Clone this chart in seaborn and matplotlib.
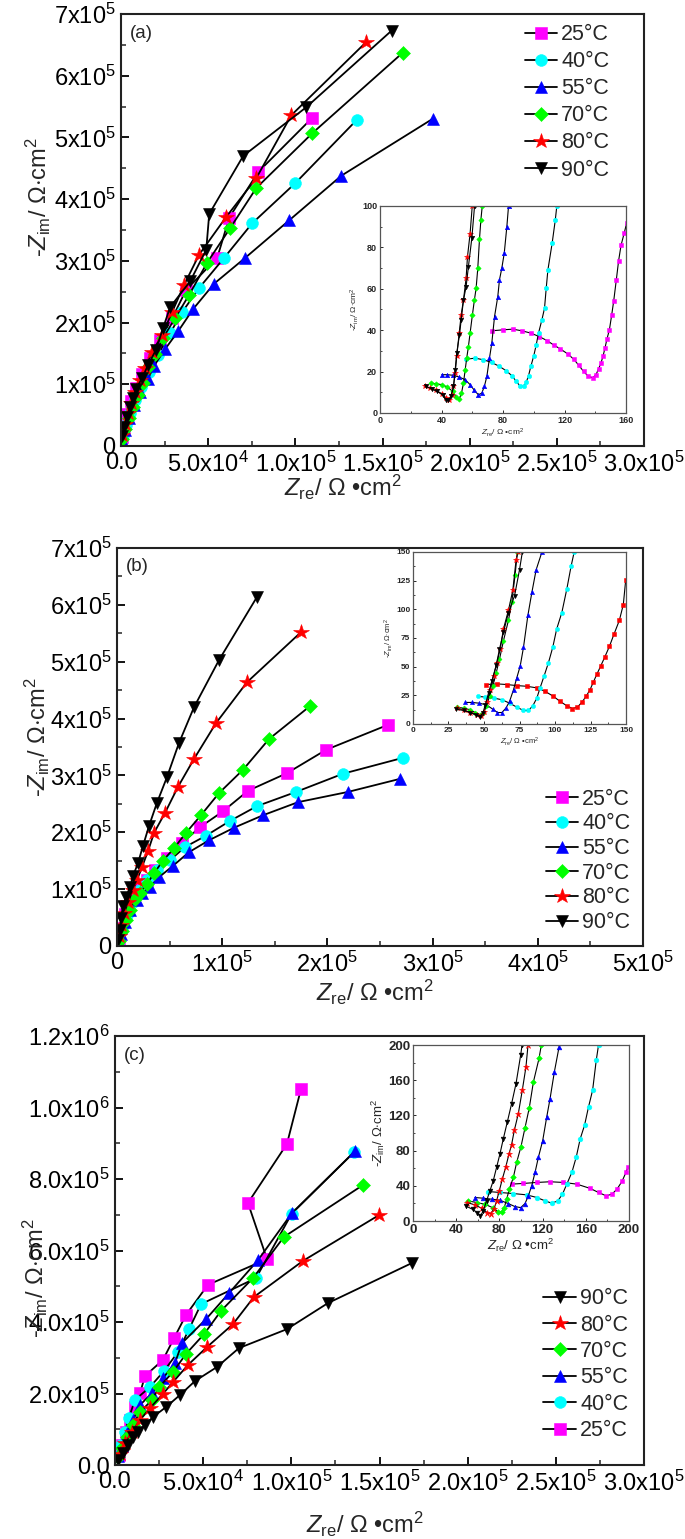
import numpy as np
import pandas as pd
import matplotlib
matplotlib.use('Agg')
import matplotlib.pyplot as plt
from matplotlib.ticker import MultipleLocator
import seaborn as sns

sns.set_theme(style='ticks')
plt.rcParams['font.family'] = ['Liberation Sans', 'DejaVu Sans']
plt.rcParams['mathtext.fontset'] = 'custom'
plt.rcParams['mathtext.rm'] = 'Liberation Sans'
plt.rcParams['mathtext.it'] = 'Liberation Sans:italic'
plt.rcParams['xtick.direction'] = 'in'
plt.rcParams['ytick.direction'] = 'in'

temps = ['25°C', '40°C', '55°C', '70°C', '80°C', '90°C']
mk = {'25°C': 's', '40°C': 'o', '55°C': '^', '70°C': 'D', '80°C': '*', '90°C': 'v'}
col = {'25°C': '#ff00ff', '40°C': '#00ffff', '55°C': '#0000ff',
       '70°C': '#00ff00', '80°C': '#ff0000', '90°C': '#000000'}

# ---- main panels, values in kOhm cm2 ----
# (a)
a25_x = [0.6, 1.7, 3.4, 5.7, 8.6, 12.1, 16.7, 22.4, 29.3, 37.4, 55.2, 62.1, 78.7, 109.8]
a25_y = [15, 32, 52, 73, 94, 117, 143, 172, 207, 253, 305, 370, 444, 532]
a40_x = [1.1, 2.9, 5.2, 8.0, 11.5, 16.1, 21.3, 28.2, 35.1, 44.8, 59.2, 75.3, 100.0, 135.1]
a40_y = [16, 34, 54, 75, 96, 120, 148, 183, 217, 256, 305, 361, 426, 528]
a55_x = [0.6, 2.3, 4.6, 7.5, 10.9, 15.5, 19.0, 25.3, 32.8, 41.4, 53.4, 71.3, 96.6, 126.4, 178.7]
a55_y = [10, 26, 45, 66, 88, 109, 130, 157, 186, 222, 263, 305, 366, 438, 530]
a70_x = [0.6, 2.3, 4.6, 6.9, 9.8, 12.6, 15.5, 19.5, 24.1, 31.0, 39.1, 49.4, 62.6, 77.6, 109.8, 161.5]
a70_y = [11, 28, 45, 63, 83, 102, 128, 149, 175, 207, 245, 297, 353, 418, 507, 637]
a80_x = [0.6, 2.3, 4.0, 5.7, 8.0, 10.9, 13.8, 17.8, 23.6, 29.3, 36.2, 44.8, 60.3, 77.6, 97.7, 140.8]
a80_y = [18, 36, 54, 70, 88, 107, 126, 152, 180, 217, 261, 310, 371, 434, 536, 655]
a90_x = [0.6, 1.7, 3.4, 5.2, 6.9, 8.6, 12.1, 15.5, 20.1, 24.1, 28.2, 39.7, 48.9, 50.6, 70.1, 106.3, 155.2]
a90_y = [16, 31, 47, 63, 78, 92, 110, 131, 156, 191, 225, 267, 318, 376, 470, 549, 673]

# (b)
b25_x = [1.9, 3.8, 7.6, 12.4, 21.9, 28.5, 36.1, 47.5, 61.8, 78.9, 100.8, 124.5, 161.6, 198.7, 257.6]
b25_y = [11, 32, 56, 81, 104, 116, 134, 155, 181, 209, 237, 273, 304, 345, 389]
b40_x = [1.9, 4.8, 9.5, 15.2, 21.9, 28.5, 38.0, 50.4, 64.6, 84.6, 107.4, 133.1, 170.2, 214.8, 271.9]
b40_y = [11, 32, 55, 77, 99, 116, 134, 151, 174, 194, 220, 246, 271, 303, 331]
b55_x = [1.9, 3.8, 7.6, 12.4, 19.0, 23.8, 31.4, 39.9, 53.2, 68.4, 87.5, 111.2, 138.8, 172.1, 219.6, 269.0]
b55_y = [5, 21, 42, 63, 81, 93, 104, 121, 141, 165, 186, 208, 230, 253, 271, 294]
b70_x = [1.9, 4.8, 8.6, 12.4, 17.1, 21.9, 28.5, 35.2, 43.7, 54.2, 65.6, 79.8, 97.0, 119.8, 144.5, 183.5]
b70_y = [9, 26, 46, 63, 83, 93, 109, 128, 150, 172, 199, 230, 269, 310, 364, 422]
b80_x = [1.9, 3.8, 6.7, 10.5, 15.2, 19.0, 23.8, 29.5, 35.2, 45.6, 58.0, 73.2, 94.1, 123.6, 174.9]
b80_y = [18, 37, 58, 77, 99, 116, 139, 167, 199, 234, 280, 329, 392, 464, 552]
b90_x = [1.0, 2.9, 3.8, 5.7, 8.6, 12.4, 15.2, 20.0, 24.7, 30.4, 38.0, 47.5, 58.9, 73.2, 97.0, 133.1]
b90_y = [11, 28, 49, 70, 86, 104, 123, 146, 176, 211, 252, 297, 357, 420, 503, 614]

# (c)
c25_x = [2.3, 4.0, 6.2, 8.5, 11.3, 14.2, 17.0, 27.2, 33.5, 40.3, 52.7, 86.2, 75.4, 97.5, 105.5]
c25_y = [28, 56, 92, 126, 162, 201, 249, 294, 355, 420, 504, 576, 733, 898, 1052]
c40_x = [1.7, 3.4, 5.7, 7.9, 11.3, 19.8, 27.8, 35.7, 42.0, 48.8, 80.0, 100.2, 135.8]
c40_y = [25, 56, 92, 132, 182, 218, 263, 316, 380, 450, 523, 703, 876]
c55_x = [1.7, 4.0, 6.8, 10.2, 14.2, 21.0, 27.2, 34.0, 38.0, 51.6, 64.7, 81.1, 100.4, 136.1]
c55_y = [25, 53, 90, 126, 168, 201, 243, 285, 341, 408, 481, 573, 705, 878]
c70_x = [1.7, 4.0, 6.8, 10.2, 14.2, 21.0, 25.0, 32.9, 40.3, 50.5, 60.1, 78.3, 95.8, 140.6]
c70_y = [22, 48, 78, 112, 148, 182, 218, 260, 311, 366, 431, 523, 638, 783]
c80_x = [2.8, 5.7, 9.6, 14.2, 19.8, 27.2, 32.9, 41.4, 52.2, 66.9, 78.8, 106.6, 149.7]
c80_y = [31, 62, 92, 126, 159, 199, 232, 280, 330, 394, 470, 571, 699]
c90_x = [1.7, 4.5, 7.4, 10.2, 13.0, 17.0, 21.5, 28.9, 36.9, 45.4, 57.8, 70.3, 97.5, 120.8, 168.4]
c90_y = [14, 34, 56, 78, 92, 112, 134, 162, 196, 235, 274, 327, 380, 453, 565]

# ---- insets, values in Ohm cm2 ----
ia25_x = [72.7, 80.3, 86.4, 92.3, 98.1, 103.6, 108.6, 112.9, 117.2, 122.0, 126.0, 129.2, 132.4, 135.5, 138.3,
          140.5, 142.2, 143.7, 145.0, 146.3, 147.6, 149.2, 150.7, 152.0, 153.7, 155.2, 156.8, 158.9, 160.5]
ia25_y = [39.7, 40.2, 40.5, 39.7, 38.6, 36.9, 35.0, 32.9, 31.0, 28.6, 26.0, 23.1, 20.1, 17.7, 17.0,
          18.5, 21.4, 24.1, 27.3, 31.3, 35.7, 40.2, 47.4, 54.1, 64.3, 73.6, 81.1, 87.1, 92.0]
ia40_x = [56.0, 61.9, 67.3, 72.7, 77.7, 82.1, 85.8, 88.6, 91.2, 93.4, 95.1, 96.6, 98.1, 99.9, 101.6, 103.1,
          105.3, 107.0, 108.1, 109.2, 112.0, 114.0, 115.0]
ia40_y = [26.0, 26.5, 25.7, 24.4, 22.5, 20.4, 18.0, 15.3, 12.9, 12.9, 14.8, 18.0, 22.5, 27.3, 32.9, 38.6,
          45.0, 50.6, 60.2, 69.1, 82.2, 93.2, 100]
ia55_x = [40.2, 43.9, 47.8, 51.7, 55.4, 58.6, 61.4, 64.0, 66.2, 67.9, 69.5, 71.2, 72.7, 74.5, 76.6, 77.7,
          79.2, 80.8, 82.5, 83.6]
ia55_y = [18.5, 18.5, 18.2, 17.3, 16.1, 13.7, 10.9, 8.8, 9.6, 12.9, 17.7, 26.5, 33.7, 46.6, 56.2, 64.3,
          69.9, 77.1, 90.0, 100]
ia70_x = [33.2, 36.5, 40.2, 43.9, 47.3, 49.5, 51.5, 53.0, 54.3, 55.4, 56.4, 57.5, 58.6, 60.1, 61.4, 62.5,
          63.6, 64.7, 65.6, 66.5]
ia70_y = [14.5, 14.1, 13.7, 12.5, 10.4, 7.7, 6.7, 9.6, 14.5, 20.9, 26.5, 32.1, 38.6, 47.4, 54.6, 60.2,
          69.9, 83.9, 93.2, 100]
ia80_x = [29.3, 32.6, 36.5, 40.2, 43.0, 45.2, 46.7, 47.8, 48.9, 49.9, 51.5, 52.8, 54.3, 56.0, 56.9, 58.6, 60.0]
ia80_y = [12.9, 12.0, 10.9, 9.3, 7.2, 6.4, 8.8, 12.9, 19.3, 27.3, 38.6, 47.4, 54.6, 65.1, 75.5, 86.7, 100]
ia90_x = [30.0, 33.7, 37.3, 40.8, 43.0, 44.5, 46.0, 47.8, 48.9, 49.9, 51.7, 52.8, 54.3, 56.0, 57.5, 59.7, 61.5]
ia90_y = [12.9, 11.6, 10.4, 8.8, 6.4, 6.1, 8.0, 12.9, 20.9, 28.9, 37.8, 45.0, 54.6, 61.0, 70.7, 84.3, 100]

ib25_x = [51.6, 59.1, 66.1, 73.1, 80.1, 87.2, 93.0, 98.9, 103.6, 108.3, 112.3, 115.8, 118.8, 121.9, 124.7,
          127.0, 129.4, 132.2, 135.2, 138.3, 141.6, 145.3, 148.1, 149.8]
ib25_y = [34.4, 35.0, 34.4, 33.5, 32.9, 31.5, 28.5, 24.1, 19.7, 15.9, 13.5, 14.7, 18.8, 24.1, 30.0,
          36.5, 43.2, 50.6, 58.8, 67.6, 78.5, 90.3, 104.1, 125.6]
ib40_x = [45.5, 50.9, 56.7, 62.6, 68.0, 73.1, 77.8, 81.3, 84.4, 87.2, 89.5, 92.3, 95.4, 98.4, 101.2, 104.8,
          108.3, 111.3, 113.5]
ib40_y = [24.1, 23.5, 22.6, 21.2, 18.2, 14.7, 11.8, 11.8, 15.9, 22.6, 31.5, 41.8, 53.5, 66.8, 82.9, 97.1,
          117.6, 137.4, 150]
ib55_x = [36.8, 41.5, 46.2, 51.6, 56.2, 59.5, 62.6, 65.4, 68.0, 70.8, 73.1, 75.5, 77.8, 80.9, 83.7, 86.7, 90.8]
ib55_y = [18.8, 18.8, 18.2, 16.8, 12.9, 10.0, 10.0, 13.8, 19.7, 30.0, 40.3, 50.6, 66.8, 94.7, 114.7, 134.4, 150]
ib70_x = [30.9, 35.6, 40.3, 43.8, 46.9, 49.2, 51.6, 53.9, 56.2, 58.6, 60.9, 63.7, 67.2, 69.6, 71.9, 73.5]
ib70_y = [14.7, 13.8, 12.4, 10.0, 7.9, 9.4, 15.3, 24.1, 32.9, 44.7, 56.5, 72.6, 90.3, 106.5, 130.0, 150]
ib80_x = [30.9, 35.6, 40.3, 45.0, 47.8, 50.2, 52.0, 54.4, 56.7, 59.1, 61.4, 63.7, 67.2, 70.3, 72.6, 74.0]
ib80_y = [13.8, 12.4, 10.0, 7.9, 7.1, 10.9, 18.8, 30.0, 41.8, 53.5, 65.3, 82.9, 99.1, 116.8, 143.2, 150]
ib90_x = [30.5, 35.6, 40.3, 44.5, 46.9, 49.2, 50.9, 53.2, 55.5, 58.6, 60.9, 63.7, 67.2, 71.5, 75.0, 77.0]
ib90_y = [12.9, 11.8, 10.0, 7.9, 6.5, 9.4, 16.8, 27.1, 37.4, 51.2, 65.3, 80.0, 97.1, 111.8, 134.4, 150]

ic25_x = [91.3, 102.2, 114.6, 126.9, 139.3, 151.7, 164.1, 171.8, 178.9, 184.2, 188.9, 193.5, 197.2, 199.1]
ic25_y = [41.9, 42.7, 43.8, 44.6, 43.8, 41.9, 37.0, 32.4, 28.6, 30.5, 36.2, 45.0, 55.2, 61.7]
ic40_x = [69.7, 80.5, 92.9, 105.3, 114.6, 122.3, 128.5, 134.1, 138.4, 142.4, 147.1, 151.1, 154.8, 158.8,
          162.5, 166.3, 169.7, 171.8]
ic40_y = [33.5, 32.4, 31.2, 29.7, 26.7, 22.9, 20.2, 22.9, 30.5, 41.9, 55.2, 72.4, 93.3, 108.6,
          129.5, 148.6, 182.9, 200]
ic55_x = [57.3, 65.0, 72.8, 80.5, 88.2, 94.4, 99.7, 103.7, 106.8, 109.9, 113.0, 116.1, 120.1, 123.8, 126.9,
          130.9, 135.3]
ic55_y = [26.7, 25.9, 24.8, 23.6, 19.8, 16.4, 15.2, 19.8, 28.6, 40.0, 55.2, 72.4, 91.4, 118.1, 139.0,
          169.5, 198.1]
ic70_x = [51.1, 58.8, 66.6, 73.7, 78.9, 82.0, 84.5, 86.7, 89.2, 92.9, 96.0, 100.0, 103.7, 107.7, 111.5,
          116.7, 118.8]
ic70_y = [22.9, 21.0, 19.0, 15.2, 10.3, 10.3, 15.2, 24.8, 36.2, 49.5, 66.7, 84.6, 105.9, 128.8, 158.1,
          184.8, 200]
ic80_x = [50.2, 57.3, 63.5, 68.7, 71.8, 74.9, 77.4, 79.9, 82.7, 85.8, 88.9, 91.3, 93.8, 97.5, 101.2, 104.6, 106.5]
ic80_y = [21.0, 18.3, 14.5, 9.5, 8.4, 13.3, 22.9, 34.3, 47.6, 61.0, 76.2, 86.9, 102.9, 121.9, 148.6, 175.2, 200]
ic90_x = [48.9, 55.1, 59.4, 62.5, 65.0, 68.1, 71.2, 74.3, 77.4, 80.5, 83.6, 87.3, 91.3, 95.4, 99.7, 101.0]
ic90_y = [17.1, 13.3, 9.5, 5.7, 11.4, 22.9, 34.3, 45.7, 61.0, 76.2, 93.3, 112.4, 133.3, 156.2, 188.6, 200]

a_data = {'25°C': (a25_x, a25_y), '40°C': (a40_x, a40_y), '55°C': (a55_x, a55_y),
          '70°C': (a70_x, a70_y), '80°C': (a80_x, a80_y), '90°C': (a90_x, a90_y)}
b_data = {'25°C': (b25_x, b25_y), '40°C': (b40_x, b40_y), '55°C': (b55_x, b55_y),
          '70°C': (b70_x, b70_y), '80°C': (b80_x, b80_y), '90°C': (b90_x, b90_y)}
c_data = {'25°C': (c25_x, c25_y), '40°C': (c40_x, c40_y), '55°C': (c55_x, c55_y),
          '70°C': (c70_x, c70_y), '80°C': (c80_x, c80_y), '90°C': (c90_x, c90_y)}
ia_data = {'25°C': (ia25_x, ia25_y), '40°C': (ia40_x, ia40_y), '55°C': (ia55_x, ia55_y),
           '70°C': (ia70_x, ia70_y), '80°C': (ia80_x, ia80_y), '90°C': (ia90_x, ia90_y)}
ib_data = {'25°C': (ib25_x, ib25_y), '40°C': (ib40_x, ib40_y), '55°C': (ib55_x, ib55_y),
           '70°C': (ib70_x, ib70_y), '80°C': (ib80_x, ib80_y), '90°C': (ib90_x, ib90_y)}
ic_data = {'25°C': (ic25_x, ic25_y), '40°C': (ic40_x, ic40_y), '55°C': (ic55_x, ic55_y),
           '70°C': (ic70_x, ic70_y), '80°C': (ic80_x, ic80_y), '90°C': (ic90_x, ic90_y)}

a_yticks = [r'0', r'$\mathregular{1x10^5}$', r'$\mathregular{2x10^5}$', r'$\mathregular{3x10^5}$',
            r'$\mathregular{4x10^5}$', r'$\mathregular{5x10^5}$', r'$\mathregular{6x10^5}$', r'$\mathregular{7x10^5}$']
a_xticks = [r'0.0', r'$\mathregular{5.0x10^4}$', r'$\mathregular{1.0x10^5}$', r'$\mathregular{1.5x10^5}$',
            r'$\mathregular{2.0x10^5}$', r'$\mathregular{2.5x10^5}$', r'$\mathregular{3.0x10^5}$']
b_xticks = [r'0', r'$\mathregular{1x10^5}$', r'$\mathregular{2x10^5}$', r'$\mathregular{3x10^5}$',
            r'$\mathregular{4x10^5}$', r'$\mathregular{5x10^5}$']
c_yticks = [r'0.0', r'$\mathregular{2.0x10^5}$', r'$\mathregular{4.0x10^5}$', r'$\mathregular{6.0x10^5}$',
            r'$\mathregular{8.0x10^5}$', r'$\mathregular{1.0x10^6}$', r'$\mathregular{1.2x10^6}$']

ylab = r'-$\it{Z}_{\mathregular{im}}$/ Ω$\cdot$cm$^{2}$'
xlab = r'$\it{Z}_{\mathregular{re}}$/ Ω •cm$^{2}$'

W, H = 685, 1539
fig = plt.figure(figsize=(W / 100, H / 100), dpi=100)


def px_axes(l, t, r, b):
    return fig.add_axes([l / W, 1 - b / H, (r - l) / W, (b - t) / H])


def draw(ax, data, scale, ms, lw, inset=False, recolor=None):
    for t in temps:
        x, y = data[t]
        df = pd.DataFrame({'zre': np.array(x) * scale, 'zim': np.array(y) * scale})
        c = col[t]
        if recolor and t in recolor:
            c = recolor[t]
        m = ms
        if mk[t] == '*':
            m = ms * 1.35
        elif mk[t] == 'D':
            m = ms * 0.85
        sns.lineplot(data=df, x='zre', y='zim', ax=ax, sort=False, estimator=None,
                     color='black', lw=lw, marker=mk[t], markersize=m,
                     markerfacecolor=c, markeredgecolor=c, markeredgewidth=0.4,
                     label='_nolegend_' if inset else t)


def style_main(ax, xmax, ymax, xmaj, xmin, ymaj, ymin, xt, yt):
    ax.set_xticks(np.arange(len(xt)) * xmaj, xt)
    ax.set_yticks(np.arange(len(yt)) * ymaj, yt)
    ax.xaxis.set_minor_locator(MultipleLocator(xmin))
    ax.yaxis.set_minor_locator(MultipleLocator(ymin))
    ax.set_xlim(0, xmax)
    ax.set_ylim(0, ymax)
    ax.tick_params(which='major', length=6, width=1.3, labelsize=17, pad=4,
                   top=False, right=False, colors='black')
    ax.tick_params(which='minor', length=3.5, width=1.1, top=False, right=False)
    for s in ax.spines.values():
        s.set_linewidth(1.5)
        s.set_color('#222222')
    ax.set_xlabel(xlab, fontsize=17)
    ax.set_ylabel(ylab, fontsize=17)


def style_inset(ax, xmax, ymax, step, fs, lfs):
    ax.set_xlim(0, xmax)
    ax.set_ylim(0, ymax)
    ax.xaxis.set_major_locator(MultipleLocator(step[0]))
    ax.xaxis.set_minor_locator(MultipleLocator(step[0] / 2))
    ax.yaxis.set_major_locator(MultipleLocator(step[1]))
    ax.yaxis.set_minor_locator(MultipleLocator(step[1] / 2))
    ax.tick_params(which='major', length=2.5, width=0.7, labelsize=fs, pad=2,
                   top=False, right=False)
    ax.tick_params(which='minor', length=1.5, width=0.6, top=False, right=False)
    for lbl in ax.get_xticklabels() + ax.get_yticklabels():
        lbl.set_fontweight('bold')
    for s in ax.spines.values():
        s.set_linewidth(0.9)
        s.set_color('#555555')
    ax.set_xlabel(xlab, fontsize=lfs, labelpad=1)
    ax.set_ylabel(ylab, fontsize=lfs, labelpad=1)


# ---------------- panel (a) ----------------
ax_a = px_axes(121, 14, 644, 446)
draw(ax_a, a_data, 1e3, 8.5, 1.3)
style_main(ax_a, 3e5, 7e5, 5e4, 2.5e4, 1e5, 5e4, a_xticks, a_yticks)
ax_a.xaxis.set_label_coords(0.424, -0.062)
ax_a.yaxis.set_label_coords(-0.13, 0.576)
ax_a.text(0.017, 0.975, '(a)', transform=ax_a.transAxes, fontsize=13.5, va='top')
ax_a.legend(loc='upper left', bbox_to_anchor=(0.772, 0.976), frameon=False, fontsize=15.5,
            handlelength=1.5, handletextpad=0.2, labelspacing=0.28, borderpad=0, borderaxespad=0)

ia = px_axes(380, 206, 626, 413)
draw(ia, ia_data, 1, 3.2, 0.8, inset=True)
style_inset(ia, 160, 100, (40, 20), 6.5, 6)

# ---------------- panel (b) ----------------
ax_b = px_axes(117, 548, 643, 946)
draw(ax_b, b_data, 1e3, 8.5, 1.3)
style_main(ax_b, 5e5, 7e5, 1e5, 5e4, 1e5, 5e4, b_xticks, a_yticks)
ax_b.xaxis.set_label_coords(0.49, -0.08)
ax_b.yaxis.set_label_coords(-0.124, 0.525)
ax_b.text(0.017, 0.975, '(b)', transform=ax_b.transAxes, fontsize=13.5, va='top')
ax_b.legend(loc='upper left', bbox_to_anchor=(0.815, 0.395), frameon=False, fontsize=15.5,
            handlelength=1.5, handletextpad=0.2, labelspacing=0.17, borderpad=0, borderaxespad=0)

ib = px_axes(413, 552, 626, 724)
draw(ib, ib_data, 1, 3.0, 0.8, inset=True, recolor={'25°C': '#ff0000'})
style_inset(ib, 150, 150, (25, 25), 6, 5.5)

# ---------------- panel (c) ----------------
ax_c = px_axes(115, 1036, 644, 1465)
draw(ax_c, c_data, 1e3, 8.5, 1.3)
style_main(ax_c, 3e5, 1.2e6, 5e4, 2.5e4, 2e5, 1e5, a_xticks, c_yticks)
ax_c.xaxis.set_label_coords(0.473, -0.105)
ax_c.yaxis.set_label_coords(-0.123, 0.436)
ax_c.text(0.017, 0.975, '(c)', transform=ax_c.transAxes, fontsize=13.5, va='top')
h, l = ax_c.get_legend_handles_labels()
ax_c.legend(h[::-1], l[::-1], loc='upper left', bbox_to_anchor=(0.81, 0.412), frameon=False,
            fontsize=15.5, handlelength=1.5, handletextpad=0.2, labelspacing=0.25,
            borderpad=0, borderaxespad=0)

ic = px_axes(413, 1045, 629, 1221)
draw(ic, ic_data, 1, 3.4, 0.8, inset=True)
style_inset(ic, 200, 200, (40, 40), 9.5, 9.5)

fig.savefig('out.png', dpi=100)
